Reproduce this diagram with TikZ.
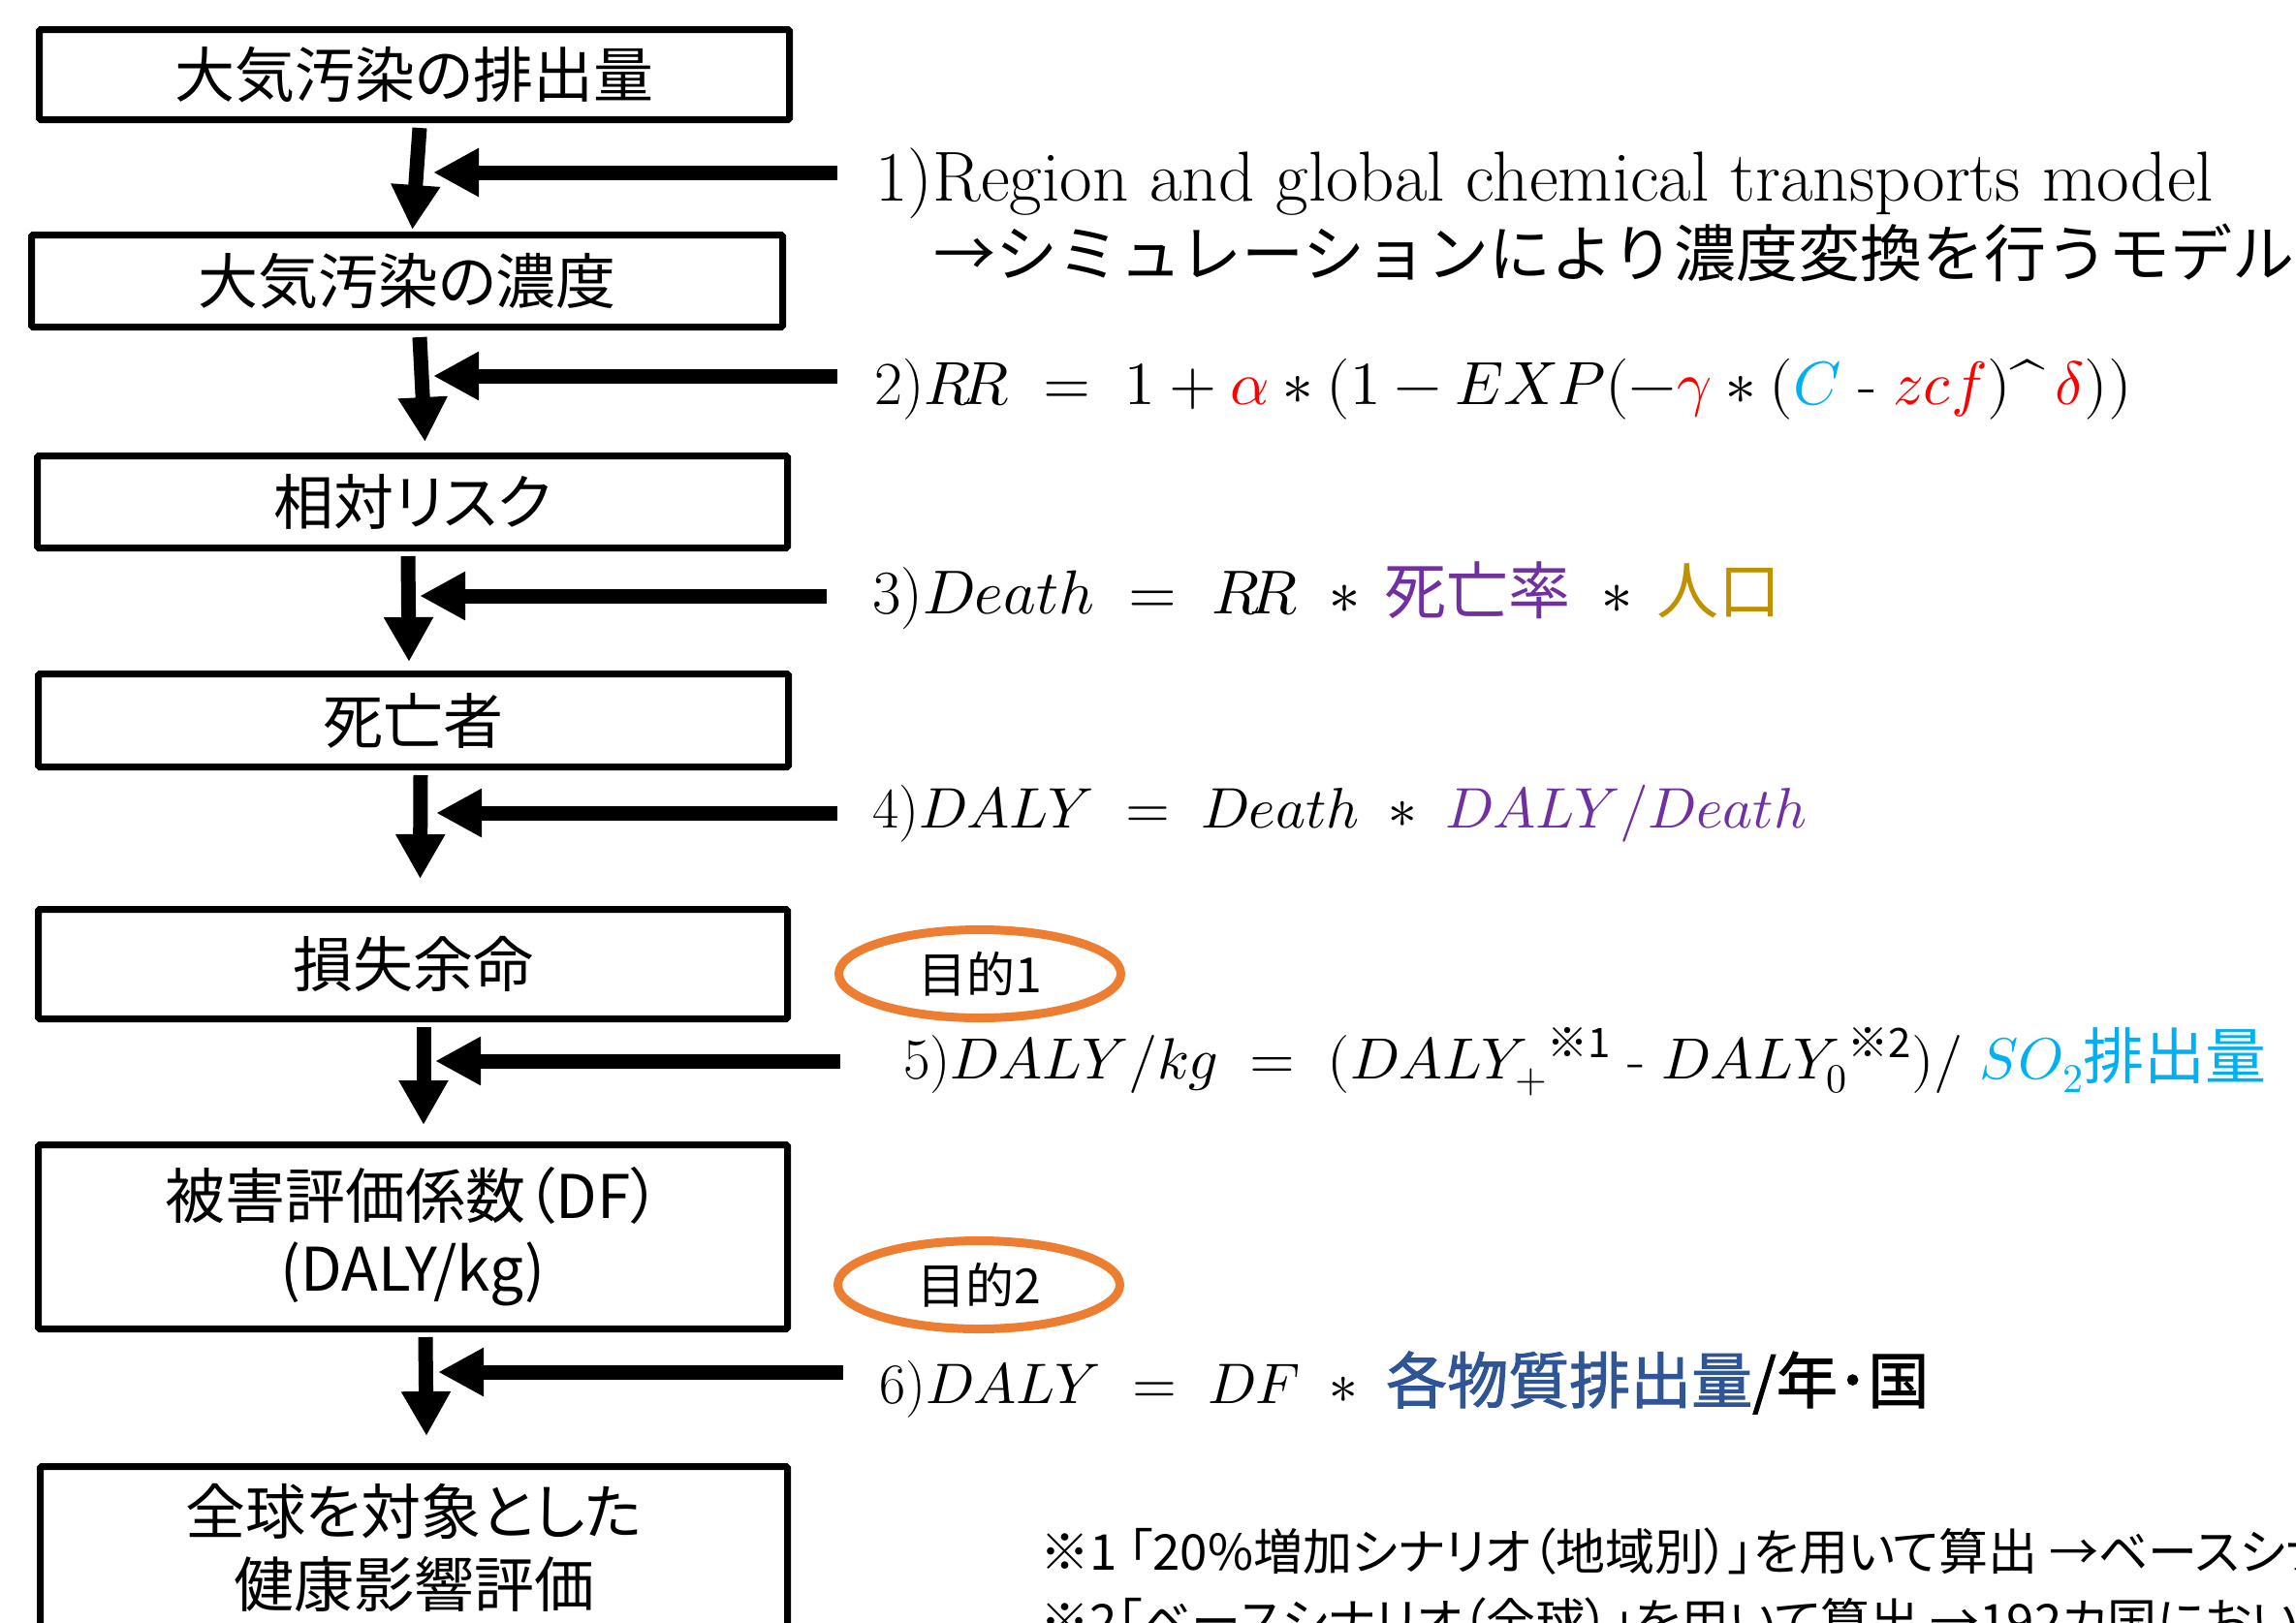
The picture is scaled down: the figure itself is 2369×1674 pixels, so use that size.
\documentclass[tikz,border=0pt]{standalone}
\usepackage{amsmath}
\usepackage{fontspec}
\usepackage{unicode-math}
\usetikzlibrary{arrows.meta,shapes.geometric}
\newfontfamily\jp{Noto Sans CJK JP}
\newfontfamily\jpp[RawFeature=+palt]{Noto Sans CJK JP}
\newfontfamily\jpb[FakeBold=1.6]{Noto Sans CJK JP}
\newcommand\jpsz{\fontsize{63}{70}\selectfont}
\definecolor{eqred}{HTML}{FF0000}
\definecolor{eqcyan}{HTML}{00B0F0}
\definecolor{eqpurple}{HTML}{7030A0}
\definecolor{eqgold}{HTML}{BF9000}
\definecolor{eqblue}{HTML}{2F5597}
\definecolor{ovalorange}{HTML}{ED7D31}
\tikzset{
  box/.style={draw=black, line width=7pt, rounded corners=1.5pt, inner sep=0pt,
    align=center, font=\jpp\fontsize{62}{75}\selectfont},
  varrow/.style={line width=15pt, -{Triangle[width=48pt,length=46pt]}},
  harrow/.style={line width=15pt, -{Triangle[width=47pt,length=47pt]}},
  goal/.style={ellipse, draw=ovalorange, line width=9pt, inner sep=0pt,
    minimum width=291pt, minimum height=91pt, font=\jp\fontsize{50}{55}\selectfont},
  eqline/.style={anchor=base west, inner sep=0pt, font=\fontsize{64}{70}\selectfont},
  note/.style={anchor=base west, inner sep=0pt, font=\jpp\fontsize{51}{55}\selectfont},
}
\begin{document}
\begin{tikzpicture}[x=1pt,y=-1pt]
\useasboundingbox (0,0) rectangle (2369,1674);
\clip (0,0) rectangle (2369,1674);
\fill[white] (0,0) rectangle (2369,1674);

% boxes
\node[box, minimum width=774pt, minimum height=93pt] (b1) at (427.5,77) {大気汚染の排出量};
\node[box, minimum width=775pt, minimum height=95pt] (b2) at (420,290) {大気汚染の濃度};
\node[box, minimum width=774pt, minimum height=95pt] (b3) at (425.5,518) {相対リスク};
\node[box, minimum width=774pt, minimum height=96pt] (b4) at (426.5,743.5) {死亡者};
\node[box, minimum width=773pt, minimum height=113pt] (b5) at (426,995) {損失余命};
\node[box, minimum width=773pt, minimum height=190pt] (b6) at (426,1276.5) {被害評価係数（DF）\\(DALY/kg)};
\node[box, minimum width=771pt, minimum height=168pt] (b7) at (427,1597.5) {全球を対象とした\\健康影響評価};

% vertical arrows
\draw[varrow] ([shift={(5.5,5)}]b1.south) -- ([shift={(5.5,-2)}]b2.north);
\draw[varrow] ([shift={(13,7)}]b2.south) -- ([shift={(13,-11)}]b3.north);
\draw[varrow] ([shift={(-4.5,5)}]b3.south) -- ([shift={(-4.5,-9)}]b4.north);
\draw[varrow] ([shift={(7.5,5)}]b4.south) -- ([shift={(7.5,-28)}]b5.north);
\draw[varrow] ([shift={(11,5)}]b5.south) -- ([shift={(11,-17)}]b6.north);
\draw[varrow] ([shift={(13,5)}]b6.south) -- ([shift={(13,-28)}]b7.north);

% horizontal arrows
\coordinate (h1s) at (864,178);  \coordinate (h1e) at (447,178);
\coordinate (h2s) at (864,388);  \coordinate (h2e) at (447,388);
\coordinate (h3s) at (853,615);  \coordinate (h3e) at (433,615);
\coordinate (h4s) at (864,839);  \coordinate (h4e) at (450,839);
\coordinate (h5s) at (867,1095); \coordinate (h5e) at (449,1095);
\coordinate (h6s) at (870,1416); \coordinate (h6e) at (452,1416);
\foreach \i in {1,...,6}{\draw[harrow] (h\i s) -- (h\i e);}

% formulas
\node[eqline, font=\fontsize{73}{78}\selectfont] (t1a) at (903,207) {1)Region and global chemical transports model};
\node[eqline, font=\jp\fontsize{64}{70}\selectfont] (t1b) at (963,285) {→シミュレーションにより濃度変換を行うモデル};
\node[eqline, font=\fontsize{63}{70}\selectfont] (t2) at (902,417) {2)$R\!R\;=\;1+\textcolor{eqred}{\alpha}*(1-EXP(-\textcolor{eqred}{\gamma}*(\textcolor{eqcyan}{C}\;\text{-}\;\textcolor{eqred}{zcf})\text{\textasciicircum}\,\textcolor{eqred}{\delta}))$};
\node[eqline] (t3) at (900,633) {3)$Death\;=\;R\!R\;*\,\textcolor{eqpurple}{\text{\jp 死亡率}}\;*\,\textcolor{eqgold}{\text{\jp 人口}}$};
\node[eqline, font=\fontsize{59}{70}\selectfont] (t4) at (900,854) {4)$DALY\;=\;Death\;*\;\textcolor{eqpurple}{DALY/Death}$};
\node[eqline, font=\fontsize{60}{70}\selectfont] (t5) at (932,1113) {5)$DALY/kg\;=\;(DALY_{+}{}^{\text{\jp ※1}}\;\text{-}\;DALY_{0}{}^{\text{\jp ※2}})/\;\textcolor{eqcyan}{SO_{2}\text{\jp\jpsz 排出量}}$};
\node[eqline, font=\fontsize{59}{70}\selectfont] (t6) at (907,1448) {6)$DALY\;=\;DF\;*\;\textcolor{eqblue}{\text{\jpb\jpsz 各物質排出量}}\text{\jpb\jpsz /年･国}$};

% goals
\node[goal] (g1) at (1011,1005) {目的1};
\node[goal] (g2) at (1010,1326) {目的2};

% notes
\node[note] (n1) at (1073,1620) {※1 「20\%増加シナリオ（地域別）」を用いて算出 →ベースシナリオ};
\node[note] (n2) at (1073,1692) {※2「ベースシナリオ（全球）」を用いて算出 →192カ国において};
\end{tikzpicture}
\end{document}
